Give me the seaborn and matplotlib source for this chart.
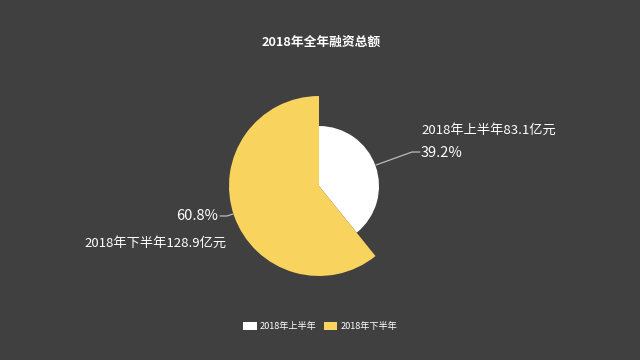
import matplotlib
matplotlib.use("Agg")
import matplotlib.pyplot as plt
import seaborn as sns

# data
categories = ['2018年上半年', '2018年下半年']
amounts = [83.1, 128.9]          # 亿元
shares = [39.2, 60.8]            # %
radii = [60, 90]
colors = ['#FFFFFF', '#F8D35E']
bg = '#404040'

sns.set_theme(style='dark')
plt.rcParams['font.family'] = ['Noto Sans CJK SC', 'DejaVu Sans']

fig = plt.figure(figsize=(6.4, 3.6), dpi=100, facecolor=bg)
ax = fig.add_axes([0, 0, 1, 1])
ax.set_facecolor(bg)

center = (319, 174)
# each slice drawn with its own radius (the other slice left invisible)
for i in range(len(shares)):
    cols = ['none'] * len(shares)
    cols[i] = colors[i]
    ax.pie(shares, radius=radii[i], center=center, startangle=90,
           counterclock=False, colors=cols, frame=True,
           wedgeprops=dict(linewidth=0))
ax.set_xlim(0, 640)
ax.set_ylim(0, 360)
ax.set_aspect('equal')
ax.axis('off')

# title
ax.text(321, 318, '2018年全年融资总额', color='white', fontsize=9.2,
        fontweight='bold', ha='center', va='center')

# labels with leader lines
ax.plot([376, 412, 420], [195, 208, 208], color='#BBBBBB', lw=0.9)
ax.text(421, 230, f'{categories[0]}{amounts[0]}亿元', color='white',
        fontsize=9.5, ha='left', va='center')
ax.text(421, 207, f'{shares[0]}%', color='white', fontsize=10.5,
        ha='left', va='center')

ax.plot([220, 227, 233], [144, 144, 146], color='#BBBBBB', lw=0.9)
ax.text(218, 144, f'{shares[1]}%', color='white', fontsize=10.5,
        ha='right', va='center')
ax.text(227, 117, f'{categories[1]}{amounts[1]}亿元', color='white',
        fontsize=9.5, ha='right', va='center')

# legend
handles = [plt.Rectangle((0, 0), 1, 1, fc=c, ec='none') for c in colors]
fig.legend(handles, categories, loc='center', bbox_to_anchor=(0.5, 0.093),
           ncol=2, frameon=False, fontsize=6.6, labelcolor='white',
           handlelength=1.5, handleheight=0.9, handletextpad=0.3,
           columnspacing=0.8)

fig.savefig('out.png', dpi=100, facecolor=bg)
